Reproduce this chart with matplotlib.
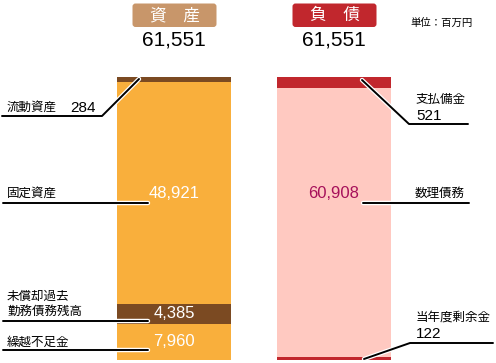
import numpy as np
import matplotlib
matplotlib.use("Agg")
import matplotlib.pyplot as plt
import matplotlib.patheffects as pe
from matplotlib.patches import FancyBboxPatch

plt.rcParams['font.family'] = ['Liberation Sans', 'Noto Sans CJK JP', 'DejaVu Sans']

# ==========================================
# Data (百万円)
# ==========================================
total = [61551, 61551]
asset_names = ['流動資産', '固定資産', '未償却過去\n勤務債務残高', '繰越不足金']
asset_vals = [284, 48921, 4385, 7960]
liab_names = ['支払備金', '数理債務', '当年度剰余金']
liab_vals = [521, 60908, 122]

# colours / minimum visible heights (style only)
asset_cols = ['#7B4A22', '#F9AF3C', '#7B4A22', '#F9AF3C']
liab_cols = ['#C1272D', '#FFC9C1', '#C1272D']
asset_min = [1100, 0, 0, 0]
liab_min = [2600, 0, 650]

W, H = 496, 363
fig = plt.figure(figsize=(W / 100, H / 100), dpi=100)

# bar axes
bx0, bx1, by0, by1 = 117, 392, 77, 360
bar = fig.add_axes([bx0 / W, 1 - by1 / H, (bx1 - bx0) / W, (by1 - by0) / H])
bar.axis('off')
bar.set_xlim(-0.356, 1.362)
bar.set_ylim(1, 0)
bw = 0.7125

# overlay axes in pixel coordinates (on top of the bars)
ov = fig.add_axes([0, 0, 1, 1])
ov.set_xlim(0, W)
ov.set_ylim(H, 0)
ov.axis('off')
ov.patch.set_alpha(0)


def stack(x, vals, mins, cols):
    disp = np.maximum(np.array(vals, float), mins)
    frac = disp / disp.sum()
    bottoms = np.concatenate([[0], np.cumsum(frac)[:-1]])
    bar.bar([x] * len(vals), frac, bottom=bottoms, width=bw, color=cols, linewidth=0)
    return bottoms + frac / 2


amid = stack(0, asset_vals, asset_min, asset_cols)
lmid = stack(1, liab_vals, liab_min, liab_cols)

# values inside bars
fs_val = 12
for i in [2, 3]:
    bar.text(0, amid[i], f'{asset_vals[i]:,}', color='white', fontsize=fs_val,
             ha='center', va='center', zorder=6)
ov.text(174, 194, f'{asset_vals[1]:,}', color='white', fontsize=fs_val,
        ha='center', va='center', zorder=6)
ov.text(334, 194, f'{liab_vals[1]:,}', color='#A6105A', fontsize=fs_val,
        ha='center', va='center', zorder=6)

# headers
cjk = ['Noto Sans CJK JP']
for cx, name, col in [(174.5, '資　産', '#C8966A'), (334.5, '負　債', '#C1272D')]:
    box = FancyBboxPatch((cx - 42, 3.5), 84, 23.5, boxstyle='round,pad=0,rounding_size=3',
                         fc=col, ec='none')
    ov.add_patch(box)
    ov.text(cx, 15.5, name, color='white', fontsize=12, ha='center', va='center', family=cjk)
for cx, t in zip([173.5, 333.5], total):
    ov.text(cx, 40, f'{t:,}', fontsize=15, ha='center', va='center')
ov.text(410, 23, '単位：百万円', fontsize=7.5, ha='left', va='center', family=cjk)

# leader lines
stroke = [pe.Stroke(linewidth=3.2, foreground='white'), pe.Normal()]


def leader(xs, ys):
    ov.plot(xs, ys, color='black', lw=1.4, solid_capstyle='round',
            path_effects=stroke, zorder=5)


fs = 9
fs_num = 11
ov.text(7, 107, asset_names[0], fontsize=fs, ha='left', va='center', family=cjk)
ov.text(96, 107.5, f'{asset_vals[0]}', fontsize=fs_num, ha='right', va='center')
leader([2, 102, 139], [116, 116, 79])
ov.text(7, 193, asset_names[1], fontsize=fs, ha='left', va='center', family=cjk)
leader([3, 148], [203, 203])
ov.text(7, 303.5, asset_names[2], fontsize=fs, ha='left', va='center', linespacing=1.2,
        family=cjk)
leader([3, 148], [321, 321])
ov.text(7, 342, asset_names[3], fontsize=fs, ha='left', va='center', family=cjk)
leader([3, 148], [350, 350])

ov.text(416, 99, liab_names[0], fontsize=fs, ha='left', va='center', family=cjk)
ov.text(416, 115.5, f'{liab_vals[0]}', fontsize=fs_num, ha='left', va='center')
leader([362, 409, 468], [80, 124, 124])
ov.text(415, 193, liab_names[1], fontsize=fs, ha='left', va='center', family=cjk)
leader([363, 469], [203, 203])
ov.text(416, 317, liab_names[2], fontsize=fs, ha='left', va='center', family=cjk)
ov.text(416, 334.5, f'{liab_vals[2]}', fontsize=fs_num, ha='left', va='center')
leader([364, 410, 493], [359, 343, 343])

fig.savefig('out.png', dpi=100)
